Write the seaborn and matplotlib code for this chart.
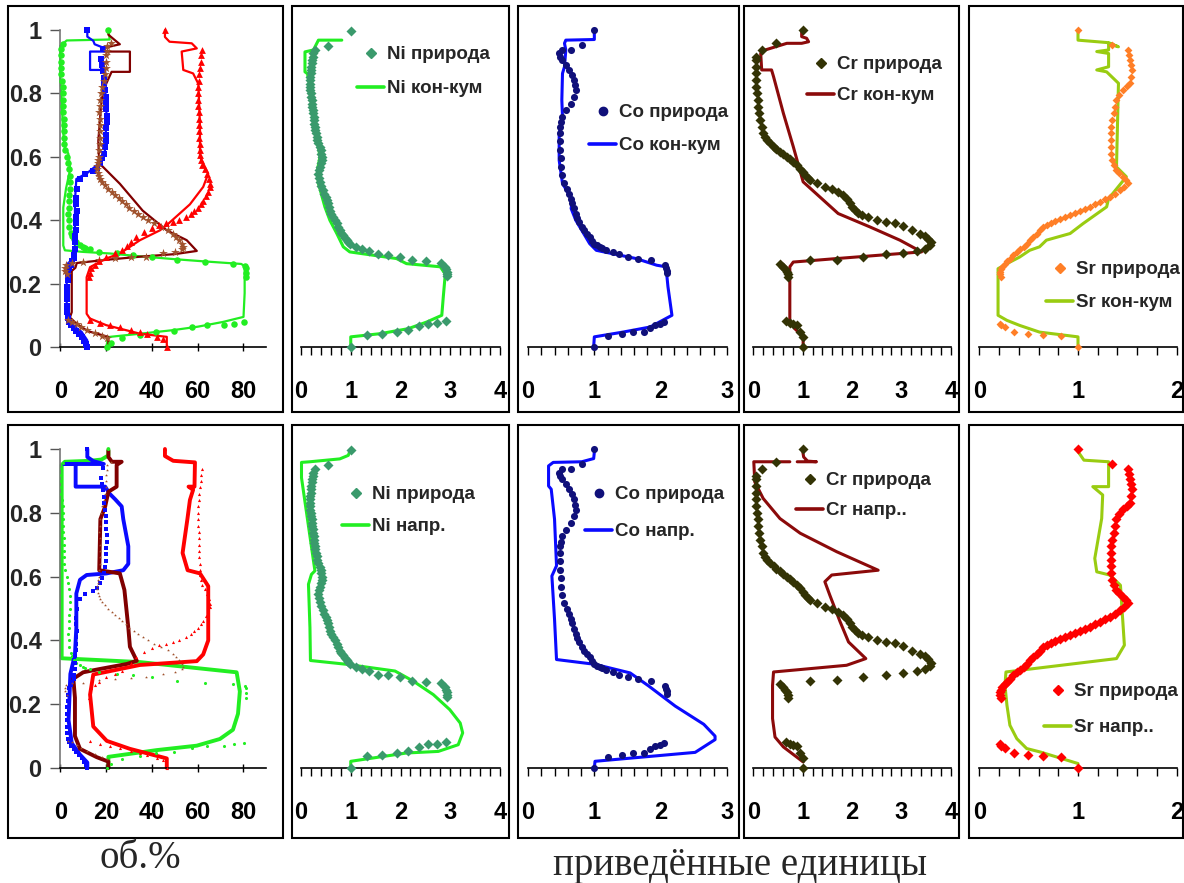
import matplotlib
matplotlib.use("Agg")
import matplotlib.pyplot as plt
import seaborn as sns
from matplotlib import font_manager
from matplotlib.lines import Line2D
from matplotlib.patches import Rectangle
from matplotlib.ticker import MultipleLocator

# ---------------- data: panel 1 (об.%) ----------------
# природа (points), same in both rows
vol_ni_x = [20.2, 22, 27, 35, 42, 49.6, 57.6, 64, 71.4, 76, 80.3,
            81, 81.2, 81, 80.5, 75.5, 63.2, 50.8, 40, 31.7, 24.6, 17, 13, 11, 10, 8.5, 7, 6, 5.2, 4.5, 4,
            3.6, 3.5, 3.6, 3.8, 4, 4.2, 4.3, 4.2, 3.8, 3.3, 2.8, 2.2, 1.8, 1.6, 1.5, 1.4, 1.4, 1.3, 1.3,
            1.3, 1.2, 1.0, 0.6, 0.3, 0.2, 0.3, 0.4, 0.5, 1.0, 20.7]
vol_ni_y = [0, 0.012, 0.028, 0.039, 0.047, 0.05, 0.063, 0.068, 0.068, 0.074, 0.079,
            0.22, 0.235, 0.25, 0.257, 0.263, 0.268, 0.274, 0.284, 0.29, 0.295, 0.3, 0.31, 0.312, 0.317, 0.322,
            0.33, 0.34, 0.35, 0.36, 0.38, 0.4, 0.42, 0.44, 0.46, 0.48, 0.5, 0.52, 0.54, 0.56, 0.58, 0.6, 0.62,
            0.64, 0.66, 0.68, 0.7, 0.72, 0.74, 0.76, 0.78, 0.8, 0.82, 0.84, 0.86, 0.88, 0.9, 0.92, 0.94,
            0.955, 1.0]

vol_co_x = [11.8, 11.2, 10.3, 9.3, 8.2, 7, 5.8, 4.6, 3.8, 3.3, 3.0, 2.8, 2.8, 2.9, 3.0, 3.2, 3.5, 4.0,
            4.6, 5.3, 5.9, 6.2, 6.3, 6.4, 6.6, 6.8, 6.9, 7.0, 7.1, 7.0, 6.9, 7.2, 8.6, 11, 14.4, 16, 17.2,
            18.3, 19.0, 19.5, 19.8, 20.0, 20.1, 20.2, 20.2, 20.1, 20.0, 19.8, 19.5, 19.2, 18.9, 18.6, 18.2,
            17.8, 18.5, 11.8]
vol_co_y = [0, 0.01, 0.02, 0.03, 0.04, 0.05, 0.06, 0.07, 0.08, 0.09, 0.11, 0.13, 0.15, 0.17, 0.19, 0.21,
            0.23, 0.25, 0.26, 0.27, 0.28, 0.29, 0.31, 0.33, 0.35, 0.37, 0.39, 0.41, 0.43, 0.45, 0.47, 0.5,
            0.53, 0.545, 0.555, 0.565, 0.58, 0.595, 0.61, 0.63, 0.65, 0.67, 0.69, 0.71, 0.73, 0.75, 0.77,
            0.79, 0.81, 0.83, 0.85, 0.87, 0.89, 0.91, 0.94, 1.0]

vol_cr_x = [20.6, 18, 15, 11.5, 9, 7.2, 5, 3.5,
            2.8, 2.2, 2, 2.5, 5, 10, 17, 24, 31, 37.5, 45, 50, 53, 53.4, 53, 52, 50.5, 49.3, 47, 44, 41,
            38.5, 36, 34, 32, 30, 28.5, 27, 25.5, 24, 22.5, 21, 19.5, 18.3, 17.5, 16.8, 16.3, 16, 16.2,
            16.4, 16.6, 16.9, 17, 17.2, 17.4, 17.5, 17.4, 17.2, 17, 17.2, 17.4, 17.6, 18.2, 19, 19.5,
            19.8, 20, 20.1, 20.3, 20.5, 22]
vol_cr_y = [0.028, 0.035, 0.045, 0.053, 0.063, 0.073, 0.08, 0.085,
            0.23, 0.24, 0.25, 0.26, 0.265, 0.268, 0.275, 0.28, 0.283, 0.285, 0.295, 0.3, 0.31, 0.316,
            0.325, 0.337, 0.348, 0.358, 0.37, 0.38, 0.39, 0.4, 0.41, 0.42, 0.43, 0.44, 0.45, 0.46, 0.47,
            0.48, 0.49, 0.5, 0.51, 0.52, 0.53, 0.54, 0.55, 0.56, 0.57, 0.58, 0.59, 0.6, 0.62, 0.64, 0.66,
            0.68, 0.7, 0.72, 0.74, 0.76, 0.78, 0.8, 0.82, 0.84, 0.86, 0.88, 0.9, 0.92, 0.935, 0.95, 0.96]

vol_sr_x = [46.5, 45, 42.3, 38, 35, 31, 26, 21.7, 17.2, 12.9,
            12.5, 12.9, 13.5, 15, 17, 20, 24, 27, 29, 31, 33, 36.6, 40, 43, 46, 49, 52, 55, 57, 58.5, 60,
            61.5, 62.5, 63.5, 64.5, 65.2, 65.5, 65, 64, 63, 62, 61.5, 61, 60.8, 60.8, 60.7, 60.6, 60.5,
            60.5, 60.4, 60.3, 60.2, 60.2, 60.3, 60.5, 60.7, 61, 61.3, 61.5, 61.7, 45.7]
vol_sr_y = [0, 0.025, 0.032, 0.04, 0.047, 0.053, 0.063, 0.069, 0.075, 0.085,
            0.22, 0.235, 0.25, 0.26, 0.27, 0.284, 0.295, 0.305, 0.32, 0.33, 0.347, 0.363, 0.375, 0.385,
            0.39, 0.395, 0.4, 0.41, 0.42, 0.43, 0.44, 0.45, 0.46, 0.475, 0.49, 0.505, 0.515, 0.53, 0.545,
            0.56, 0.575, 0.59, 0.605, 0.62, 0.64, 0.66, 0.68, 0.7, 0.72, 0.74, 0.76, 0.78, 0.8, 0.82, 0.84,
            0.86, 0.88, 0.9, 0.92, 0.937, 1.0]

# кон-кум (top row lines)
kk_ni_x = [20.5, 20.5, 21.7, 35, 49, 60, 71, 80, 80.5, 80.5, 79, 63, 50, 35, 21.7, 10, 2, 1.3, 1.3, 2.5,
           4, 4.2, 3.5, 2, 1.2, 0.6, 0, 0, 2.8, 21.6, 21]
kk_ni_y = [0, 0.03, 0.032, 0.042, 0.053, 0.064, 0.079, 0.095, 0.17, 0.255, 0.262, 0.27, 0.277, 0.286,
           0.295, 0.3, 0.305, 0.32, 0.44, 0.5, 0.55, 0.57, 0.61, 0.63, 0.68, 0.78, 0.85, 0.95, 0.967, 0.97,
           0.998]
kk_co_x = [11.8, 11.8, 9.3, 5, 2.8, 2.8, 5.7, 6.4, 6.4, 7, 12, 17, 19.5, 20.2, 19.5, 19.6, 13, 13, 19,
           18.5, 15, 14.4, 11.8, 11.8]
kk_co_y = [0, 0.021, 0.048, 0.07, 0.085, 0.26, 0.28, 0.29, 0.46, 0.53, 0.55, 0.58, 0.62, 0.73, 0.83,
           0.874, 0.874, 0.932, 0.932, 0.945, 0.955, 0.966, 0.979, 1.0]
kk_cr_x = [21, 21, 12, 7.2, 4.2, 5, 5, 6.6, 7.2, 20, 35, 50, 59.6, 55.2, 46.5, 36, 26, 17, 16.6, 18, 20,
           22.4, 30.4, 30.4, 19.3, 18.2, 26, 21, 21]
kk_cr_y = [0, 0.032, 0.05, 0.073, 0.093, 0.11, 0.24, 0.25, 0.265, 0.275, 0.285, 0.293, 0.303, 0.337,
           0.368, 0.43, 0.515, 0.58, 0.65, 0.78, 0.83, 0.868, 0.868, 0.932, 0.932, 0.942, 0.955, 0.985, 1.0]
kk_sr_x = [46.5, 46.5, 34.8, 20, 12.9, 11.5, 11.5, 13, 20, 26, 34.8, 43.5, 46.4, 56.6, 62.4, 64.6, 61,
           61, 60.3, 58, 53.7, 53, 59.6, 57.4, 47.7, 45.7, 45.7]
kk_sr_y = [0, 0.032, 0.042, 0.069, 0.09, 0.105, 0.22, 0.252, 0.279, 0.295, 0.337, 0.368, 0.384, 0.45,
           0.505, 0.547, 0.6, 0.695, 0.83, 0.863, 0.874, 0.932, 0.942, 0.958, 0.963, 0.978, 1.0]

# напр. (bottom row lines)
np_ni_x = [21, 21, 42, 59.6, 69.7, 75.4, 77.6, 78.4, 77, 34.8, 0.6, 0.6, 2, 13, 18, 21, 21]
np_ni_y = [0, 0.035, 0.056, 0.07, 0.091, 0.12, 0.17, 0.24, 0.3, 0.332, 0.344, 0.95, 0.96, 0.963, 0.967,
           0.98, 1.0]
np_co_x = [11.8, 11.8, 8.6, 5, 3.6, 4.4, 6.4, 7, 7, 8.6, 11.5, 20.2, 27.5, 29.7, 29.7, 27.5, 26.8, 24,
           21.5, 19.6, 6.7, 6.7, 1.7, 19, 14.4, 11.8, 11.8]
np_co_y = [0, 0.017, 0.042, 0.078, 0.15, 0.295, 0.356, 0.44, 0.547, 0.59, 0.605, 0.61, 0.62, 0.64, 0.695,
           0.78, 0.82, 0.842, 0.86, 0.882, 0.882, 0.953, 0.953, 0.953, 0.962, 0.975, 1.0]
np_cr_x = [21, 21, 15.9, 8.6, 6.4, 6.4, 5.7, 10, 17, 29, 33.4, 30.4, 29.7, 28, 26, 17, 17.5, 19.6, 21,
           24.6, 24.6, 26.8, 22.5, 21, 21]
np_cr_y = [0, 0.02, 0.034, 0.06, 0.1, 0.22, 0.28, 0.3, 0.31, 0.326, 0.336, 0.38, 0.44, 0.558, 0.61, 0.62,
           0.78, 0.82, 0.866, 0.882, 0.95, 0.96, 0.96, 0.975, 0.995]
np_sr_x = [46.5, 46.5, 30.4, 20.3, 14.4, 13, 14.4, 34.8, 59.6, 62.4, 64.6, 64.6, 61, 55.6, 53.4, 55.5,
           56.6, 58, 56, 58.6, 58.8, 49.3, 45.7, 45.7]
np_sr_y = [0, 0.03, 0.06, 0.085, 0.13, 0.23, 0.293, 0.323, 0.335, 0.356, 0.4, 0.57, 0.61, 0.62, 0.674,
           0.78, 0.84, 0.872, 0.882, 0.882, 0.958, 0.963, 0.978, 1.0]

# ---------------- data: приведённые единицы ----------------
ni_nat_x = [1.0, 1.33, 1.62, 1.92, 2.16, 2.38, 2.56, 2.74, 2.91,
            2.93, 2.94, 2.93, 2.91, 2.89, 2.81, 2.51, 2.24, 1.99, 1.74, 1.54, 1.37, 1.22, 1.1, 0.98, 0.95,
            0.92, 0.88, 0.85, 0.81, 0.78, 0.75, 0.72, 0.68, 0.65, 0.61, 0.58, 0.56, 0.55, 0.52, 0.5, 0.47,
            0.45, 0.41, 0.38, 0.36, 0.35, 0.36, 0.38, 0.4, 0.42, 0.42, 0.41, 0.4, 0.38, 0.35, 0.33, 0.32,
            0.31, 0.29, 0.28, 0.27, 0.26, 0.26, 0.25, 0.24, 0.23, 0.22, 0.22, 0.21, 0.2, 0.19, 0.19, 0.18,
            0.19, 0.19, 0.2, 0.2, 0.2, 0.22, 0.23, 0.24, 0.25, 0.28, 0.55, 1.0]
ni_nat_y = [0, 0.037, 0.042, 0.047, 0.053, 0.065, 0.074, 0.076, 0.082,
            0.223, 0.23, 0.237, 0.245, 0.253, 0.265, 0.27, 0.274, 0.284, 0.29, 0.293, 0.303, 0.31, 0.316,
            0.326, 0.332, 0.337, 0.345, 0.353, 0.36, 0.368, 0.378, 0.39, 0.4, 0.41, 0.42, 0.43, 0.442,
            0.453, 0.463, 0.474, 0.484, 0.495, 0.508, 0.521, 0.534, 0.547, 0.558, 0.568, 0.58, 0.59, 0.6,
            0.61, 0.62, 0.63, 0.642, 0.653, 0.664, 0.674, 0.685, 0.695, 0.705, 0.716, 0.726, 0.737, 0.748,
            0.758, 0.768, 0.779, 0.79, 0.8, 0.81, 0.82, 0.83, 0.842, 0.853, 0.863, 0.874, 0.884, 0.895,
            0.905, 0.916, 0.926, 0.937, 0.95, 0.997]
ni_kk_x = [1.0, 1.0, 1.59, 2.16, 2.53, 2.83, 2.86, 2.9, 2.8, 2.12, 1.92, 0.98, 0.85, 0.72, 0.58, 0.48,
           0.35, 0.33, 0.38, 0.33, 0.25, 0.17, 0.13, 0.08, 0.08, 0.25, 0.35, 0.82]
ni_kk_y = [0, 0.032, 0.042, 0.058, 0.079, 0.1, 0.158, 0.23, 0.253, 0.263, 0.279, 0.3, 0.316, 0.358, 0.4,
           0.442, 0.516, 0.558, 0.6, 0.653, 0.737, 0.83, 0.862, 0.868, 0.931, 0.937, 0.968, 0.968]
ni_np_x = [1.0, 1.0, 2.12, 2.76, 3.16, 3.25, 3.2, 2.99, 2.66, 2.26, 1.89, 0.92, 0.19, 0.18, 0.15, 0.21,
           0.28, 0.01, 0.01, 0.18, 0.78, 0.95, 1.0]
ni_np_y = [0, 0.021, 0.047, 0.052, 0.073, 0.11, 0.141, 0.183, 0.23, 0.272, 0.304, 0.325, 0.337, 0.44,
           0.576, 0.607, 0.618, 0.91, 0.958, 0.96, 0.969, 0.98, 1.0]

co_nat_x = [0.99, 1.21, 1.41, 1.59, 1.75, 1.84, 1.91, 1.99, 2.05,
            2.09, 2.1, 2.08, 2.06, 1.85, 1.66, 1.51, 1.37, 1.28, 1.18, 1.12, 1.08, 1.04, 1.0, 0.97, 0.93,
            0.89, 0.85, 0.81, 0.77, 0.745, 0.72, 0.69, 0.67, 0.645, 0.62, 0.585, 0.55, 0.52, 0.5, 0.49,
            0.48, 0.48, 0.48, 0.48, 0.5, 0.52, 0.58, 0.65, 0.69, 0.72, 0.71, 0.7, 0.66, 0.62, 0.57, 0.52,
            0.48, 0.46, 0.52, 0.65, 0.82, 0.99]
co_nat_y = [0, 0.034, 0.042, 0.047, 0.047, 0.06, 0.068, 0.072, 0.079,
            0.232, 0.24, 0.248, 0.258, 0.274, 0.279, 0.284, 0.293, 0.3, 0.307, 0.312, 0.316, 0.321, 0.326,
            0.335, 0.347, 0.357, 0.368, 0.38, 0.395, 0.407, 0.42, 0.437, 0.453, 0.468, 0.484, 0.5, 0.516,
            0.542, 0.568, 0.595, 0.621, 0.65, 0.675, 0.695, 0.71, 0.726, 0.747, 0.768, 0.79, 0.81, 0.826,
            0.842, 0.858, 0.874, 0.89, 0.905, 0.916, 0.926, 0.937, 0.937, 0.953, 1.0]
co_kk_x = [0.99, 1.0, 1.43, 1.84, 2.17, 2.11, 2.08, 1.94, 1.63, 1.03, 0.93, 0.72, 0.65, 0.67, 0.52, 0.47,
           0.47, 0.52, 0.51, 0.52, 0.55, 0.57, 0.55, 0.57, 1.0, 1.0]
co_kk_y = [0, 0.032, 0.047, 0.063, 0.1, 0.19, 0.253, 0.258, 0.279, 0.305, 0.326, 0.4, 0.437, 0.463,
           0.516, 0.589, 0.674, 0.726, 0.779, 0.863, 0.884, 0.937, 0.958, 0.968, 0.97, 1.0]
co_np_x = [1.0, 1.01, 2.52, 2.82, 2.82, 2.65, 2.22, 1.82, 1.54, 1.01, 0.43, 0.4, 0.36, 0.43, 0.4, 0.35,
           0.31, 0.31, 0.38, 0.81, 0.99, 1.0]
co_np_y = [0, 0.021, 0.049, 0.089, 0.1, 0.137, 0.194, 0.257, 0.298, 0.325, 0.34, 0.466, 0.602, 0.634,
           0.78, 0.874, 0.884, 0.947, 0.958, 0.96, 0.97, 0.99]

cr_nat_x = [1.01, 1.0, 0.95, 0.88, 0.8, 0.74, 0.66,
            0.71, 0.7, 0.68, 0.65, 0.61, 0.55, 1.15, 1.7, 2.23, 2.68, 3.04, 3.32, 3.48, 3.59, 3.6, 3.55,
            3.47, 3.38, 3.21, 3.04, 2.87, 2.69, 2.5, 2.33, 2.2, 2.12, 2.06, 2.0, 1.96, 1.9, 1.82, 1.72, 1.59,
            1.45, 1.3, 1.15, 1.1, 1.05, 1.0, 0.95, 0.88, 0.81, 0.74, 0.68, 0.61, 0.54, 0.47, 0.41, 0.34,
            0.27, 0.23, 0.2, 0.17, 0.14, 0.12, 0.1, 0.09, 0.07, 0.06, 0.05, 0.05, 0.05, 0.05, 0.05, 0.17,
            0.47, 1.01]
cr_nat_y = [0, 0.032, 0.047, 0.068, 0.072, 0.076, 0.082,
            0.221, 0.229, 0.237, 0.245, 0.253, 0.263, 0.274, 0.276, 0.284, 0.293, 0.297, 0.303, 0.31,
            0.321, 0.33, 0.342, 0.35, 0.358, 0.368, 0.381, 0.392, 0.395, 0.402, 0.41, 0.416, 0.424, 0.432,
            0.442, 0.453, 0.466, 0.479, 0.489, 0.497, 0.505, 0.516, 0.526, 0.534, 0.542, 0.552, 0.563,
            0.574, 0.584, 0.592, 0.6, 0.608, 0.616, 0.624, 0.632, 0.642, 0.653, 0.663, 0.674, 0.695, 0.716,
            0.737, 0.758, 0.779, 0.8, 0.821, 0.842, 0.863, 0.884, 0.905, 0.916, 0.937, 0.958, 1.0]
cr_kk_x = [1.01, 1.01, 0.84, 0.74, 0.74, 0.81, 1.69, 3.41, 2.97, 2.36, 1.72, 1.01, 0.81, 0.61, 0.41,
           0.37, 0.17, 0.15, 0.24, 0.68, 0.98, 1.12, 1.08, 0.98, 0.98]
cr_kk_y = [0, 0.032, 0.058, 0.084, 0.253, 0.268, 0.279, 0.3, 0.337, 0.379, 0.421, 0.521, 0.632, 0.737,
           0.853, 0.874, 0.874, 0.926, 0.937, 0.958, 0.958, 0.963, 0.974, 0.979, 1.0]
cr_np_x = [1.01, 0.61, 0.44, 0.39, 0.39, 0.41, 1.89, 2.28, 1.93, 1.76, 1.55, 1.45, 1.59, 2.53, 1.69,
           0.95, 0.54, 0.2, 0.03, 0.01, 0.74]
cr_np_y = [0.019, 0.066, 0.097, 0.155, 0.259, 0.301, 0.322, 0.343, 0.395, 0.458, 0.542, 0.584, 0.605,
           0.62, 0.678, 0.736, 0.782, 0.845, 0.897, 0.96, 0.96]
cr_np_top_x = [0.89, 1.28, 1.1, 1.02, 1.0]
cr_np_top_y = [0.96, 0.96, 0.962, 0.975, 0.995]

sr_nat_x = [1.0, 0.83, 0.65, 0.49, 0.35, 0.26, 0.22, 0.21,
            0.22, 0.21, 0.21, 0.22, 0.23, 0.26, 0.28, 0.31, 0.34, 0.38, 0.41, 0.45, 0.48, 0.51, 0.54, 0.58,
            0.61, 0.65, 0.69, 0.73, 0.77, 0.82, 0.87, 0.92, 0.97, 1.02, 1.07, 1.12, 1.17, 1.22, 1.27, 1.32,
            1.37, 1.43, 1.47, 1.51, 1.49, 1.46, 1.42, 1.39, 1.36, 1.34, 1.33, 1.33, 1.33, 1.33, 1.33, 1.34,
            1.36, 1.37, 1.39, 1.42, 1.46, 1.5, 1.53, 1.54, 1.55, 1.54, 1.53, 1.52, 1.51, 1.34, 1.0]
sr_nat_y = [0, 0.034, 0.037, 0.042, 0.047, 0.063, 0.068, 0.074,
            0.221, 0.229, 0.237, 0.245, 0.253, 0.263, 0.271, 0.279, 0.29, 0.3, 0.308, 0.316, 0.326, 0.337,
            0.347, 0.358, 0.368, 0.379, 0.386, 0.392, 0.398, 0.405, 0.41, 0.416, 0.422, 0.429, 0.435, 0.442,
            0.45, 0.458, 0.466, 0.474, 0.484, 0.495, 0.505, 0.518, 0.528, 0.537, 0.548, 0.558, 0.574,
            0.589, 0.61, 0.632, 0.653, 0.674, 0.695, 0.716, 0.737, 0.758, 0.779, 0.795, 0.811, 0.822,
            0.832, 0.853, 0.874, 0.89, 0.905, 0.921, 0.937, 0.953, 1.0]
sr_kk_x = [1.0, 1.0, 0.61, 0.41, 0.28, 0.19, 0.19, 0.28, 0.41, 0.51, 0.61, 0.68, 0.92, 1.05, 1.29, 1.31,
           1.49, 1.39, 1.41, 1.29, 1.19, 1.31, 1.31, 1.19, 1.31, 1.31, 1.41, 1.31, 1.0, 1.0]
sr_kk_y = [0, 0.032, 0.047, 0.068, 0.084, 0.1, 0.247, 0.263, 0.284, 0.305, 0.316, 0.337, 0.358, 0.389,
           0.442, 0.468, 0.537, 0.568, 0.832, 0.868, 0.874, 0.884, 0.926, 0.932, 0.937, 0.958, 0.947, 0.96,
           0.968, 1.0]
sr_np_x = [1.0, 0.62, 0.48, 0.38, 0.31, 0.28, 0.26, 0.27, 1.39, 1.47, 1.43, 1.32, 1.19, 1.17, 1.24, 1.25,
           1.15, 1.31, 1.31, 1.06, 1.0]
sr_np_y = [0.014, 0.05, 0.061, 0.092, 0.134, 0.197, 0.259, 0.301, 0.343, 0.385, 0.573, 0.605, 0.615,
           0.657, 0.782, 0.856, 0.882, 0.882, 0.96, 0.965, 0.992]

x_max = [90, 4, 3, 4, 2]
x_ticks = [[0, 20, 40, 60, 80], [0, 1, 2, 3, 4], [0, 1, 2, 3], [0, 1, 2, 3, 4], [0, 1, 2]]

# ---------------- style ----------------
sns.set_style("white")
installed = {f.name for f in font_manager.fontManager.ttflist}
narrow = "Liberation Sans Narrow" in installed
base_font = "Liberation Sans Narrow" if narrow else "Liberation Sans"
plt.rcParams["font.family"] = [base_font, "DejaVu Sans"]
plt.rcParams["font.weight"] = "bold"
LEG_SIZE = 16 if narrow else 13.5

GREEN = "#22ee22"
BLUE = "#0a0aff"
MAROON = "#800000"
SIENNA = "#a0522d"
RED = "#ff0000"

fig = plt.figure(figsize=(11.84, 8.83), dpi=100)
W, H = 1184.0, 883.0

# axes geometry in pixels: x of value 0, x of value max
ax_px = [(60.3, 266.4), (301, 500), (528, 727), (753.3, 950.7), (979.3, 1176.7)]
rows_px = [(347, 30), (768, 449)]
boxes_x = [(8, 283), (292, 509), (518, 739), (744, 959), (969, 1183)]
boxes_y = [(6, 412), (425, 838)]

axes = []
for r, (y0, y1) in enumerate(rows_px):
    row = []
    for c, (x0, x1) in enumerate(ax_px):
        ax = fig.add_axes([x0 / W, 1 - y0 / H, (x1 - x0) / W, (y0 - y1) / H])
        ax.set_xlim(0, x_max[c])
        ax.set_ylim(0, 1)
        ax.set_xticks(x_ticks[c])
        ax.tick_params(axis="x", which="both", bottom=True, labelsize=17, pad=18, direction="out",
                       length=6, width=1, colors="black")
        ax.spines["top"].set_visible(False)
        ax.spines["right"].set_visible(False)
        ax.spines["bottom"].set_color("black")
        ax.spines["bottom"].set_linewidth(1.2)
        if c == 0:
            ax.set_yticks([0, 0.2, 0.4, 0.6, 0.8, 1])
            ax.set_yticklabels(["0", "0.2", "0.4", "0.6", "0.8", "1"])
            ax.tick_params(axis="y", left=True, labelsize=17, pad=6.5, direction="out", length=7,
                           width=1, color="#555555")
            ax.tick_params(axis="x", direction="inout", length=6, pad=21)
            ax.spines["left"].set_color("#777777")
            ax.spines["left"].set_linewidth(1.2)
        else:
            ax.spines["left"].set_visible(False)
            ax.set_yticks([])
            ax.xaxis.set_minor_locator(MultipleLocator(0.2))
            ax.tick_params(axis="x", which="minor", bottom=True, direction="out", length=6, width=1)
        ax.set_xlabel("")
        ax.set_ylabel("")
        row.append(ax)
    axes.append(row)

for (by0, by1) in boxes_y:
    for (bx0, bx1) in boxes_x:
        fig.add_artist(Rectangle((bx0 / W, 1 - by1 / H), (bx1 - bx0) / W, (by1 - by0) / H,
                                 transform=fig.transFigure, fill=False, ec="black", lw=1.5))


def line(ax, x, y, color, lw):
    sns.lineplot(x=x, y=y, sort=False, estimator=None, color=color, lw=lw, ax=ax,
                 legend=False, clip_on=False)


def points(ax, x, y, color, marker, s):
    sns.scatterplot(x=x, y=y, color=color, marker=marker, s=s, linewidth=0, ax=ax,
                    legend=False, clip_on=False, zorder=3)


# ---------------- panel 1, both rows ----------------
vol_nat = [(vol_ni_x, vol_ni_y, GREEN, "o", 22), (vol_co_x, vol_co_y, BLUE, "s", 18),
           (vol_cr_x, vol_cr_y, SIENNA, "*", 45), (vol_sr_x, vol_sr_y, RED, "^", 24)]
top_lines = [(kk_ni_x, kk_ni_y, GREEN), (kk_co_x, kk_co_y, BLUE),
             (kk_cr_x, kk_cr_y, MAROON), (kk_sr_x, kk_sr_y, RED)]
bot_lines = [(np_ni_x, np_ni_y, GREEN), (np_co_x, np_co_y, BLUE),
             (np_cr_x, np_cr_y, MAROON), (np_sr_x, np_sr_y, RED)]
for x, y, col in top_lines:
    line(axes[0][0], x, y, col, 1.6)
for x, y, col, mk, s in vol_nat:
    points(axes[0][0], x, y, col, mk, s)
for x, y, col in bot_lines:
    line(axes[1][0], x, y, col, 2.8)
for x, y, col, mk, s in vol_nat:
    points(axes[1][0], x, y, col, mk, 5)

# ---------------- normalized panels ----------------
panels = [
    ("Ni", ni_nat_x, ni_nat_y, "#3a9a6c", "D", ni_kk_x, ni_kk_y, ni_np_x, ni_np_y, GREEN, "#3a9a6c"),
    ("Co", co_nat_x, co_nat_y, "#10107a", "o", co_kk_x, co_kk_y, co_np_x, co_np_y, BLUE, "#10107a"),
    ("Cr", cr_nat_x, cr_nat_y, "#333305", "D", cr_kk_x, cr_kk_y, cr_np_x, cr_np_y, "#8b0a0a", "#333305"),
    ("Sr", sr_nat_x, sr_nat_y, "#ff7f27", "D", sr_kk_x, sr_kk_y, sr_np_x, sr_np_y, "#99cc11", RED),
]
for i, (el, nx, ny, ncol, mk, kx, ky, px, py, lcol, ncol2) in enumerate(panels):
    at, ab = axes[0][i + 1], axes[1][i + 1]
    line(at, kx, ky, lcol, 2.2)
    points(at, nx, ny, ncol, mk, 26 if el != "Sr" else 16)
    line(ab, px, py, lcol, 2.2)
    if el == "Cr":
        line(ab, cr_np_top_x, cr_np_top_y, lcol, 2.2)
    points(ab, nx, ny, ncol2, mk, 26)

# ---------------- legends (figure pixel anchors) ----------------
# (row, col, labels, top-left anchor in px, row gap in px)
leg_spec = [
    (0, 1, "Ni природа", "Ni кон-кум", (357, 46), 35),
    (0, 2, "Co природа", "Co кон-кум", (589, 104), 34),
    (0, 3, "Cr природа", "Cr кон-кум", (807, 56), 32),
    (0, 4, "Sr природа", "Sr кон-кум", (1046, 261), 34),
    (1, 1, "Ni природа", "Ni напр.", (342, 486), 33),
    (1, 2, "Co природа", "Co напр.", (585, 486), 38),
    (1, 3, "Cr природа", "Cr напр..", (796, 472), 31),
    (1, 4, "Sr природа", "Sr напр..", (1044, 683), 37),
]
font_px = LEG_SIZE * 100 / 72
for r, c, lab1, lab2, (lx, ly), gap in leg_spec:
    el, nx, ny, ncol, mk, kx, ky, px, py, lcol, ncol2 = panels[c - 1]
    mcol = ncol if r == 0 else ncol2
    h1 = Line2D([], [], ls="none", marker=mk, color=mcol, markersize=5.5 if mk == "D" else 6)
    h2 = Line2D([], [], color=lcol, lw=2.6)
    axes[r][c].legend([h1, h2], [lab1, lab2], loc="upper left",
                      bbox_to_anchor=(lx / W, 1 - ly / H), bbox_transform=fig.transFigure,
                      frameon=False, borderpad=0, borderaxespad=0, handlelength=27 / font_px,
                      handletextpad=3 / font_px, labelspacing=(gap - 0.97 * font_px) / font_px,
                      prop={"size": LEG_SIZE, "weight": "bold"})

fig.text(140 / W, 1 - 858 / H, "об.%", ha="center", va="center", fontsize=28,
         family="Liberation Serif", fontweight="normal")
fig.text(740 / W, 1 - 866 / H, "приведённые единицы", ha="center", va="center", fontsize=28,
         family="Liberation Serif", fontweight="normal")

fig.savefig("out.png", dpi=100, facecolor="white")
